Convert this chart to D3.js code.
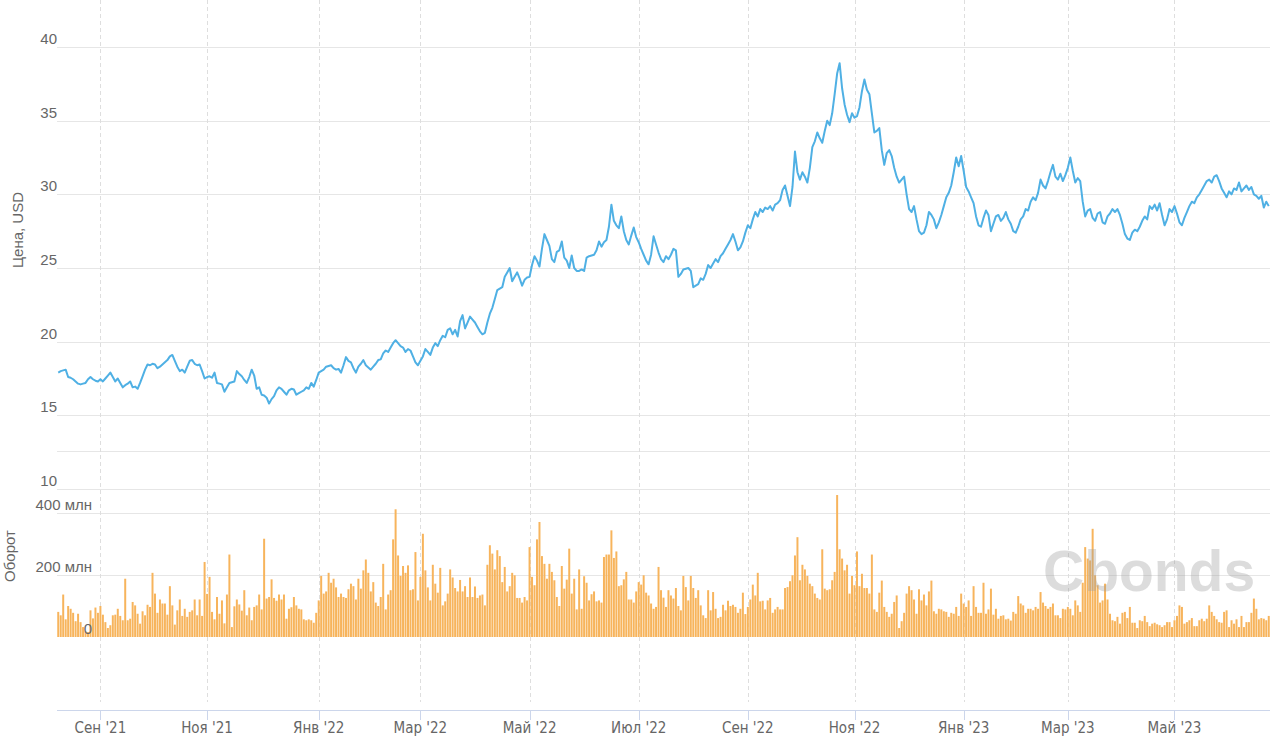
<!DOCTYPE html>
<html><head><meta charset="utf-8">
<script src="https://cdn.jsdelivr.net/npm/d3@7"></script>
<style>body{margin:0;background:#fff;}svg{display:block;}</style>
</head><body>
<svg id="c" width="1280" height="747"></svg>
<script>
// ---- data ----
const startDate = "2021-08-09"; // first trading day shown (business days follow)
const price = [
17.9,18.0,18.05,18.1,17.6,17.55,17.45,17.3,17.15,17.1,
17.15,17.2,17.45,17.6,17.45,17.35,17.3,17.45,17.3,17.5,
17.7,17.9,17.6,17.3,17.5,17.2,16.9,17.05,17.15,17.3,
16.9,16.95,16.8,17.2,17.65,18.1,18.45,18.4,18.5,18.45,
18.2,18.3,18.45,18.6,18.75,19.0,19.1,18.7,18.3,18.0,
18.1,17.9,18.3,18.7,18.75,18.5,18.4,18.45,18.0,17.5,
17.6,17.65,17.55,17.9,17.2,17.15,17.1,16.6,16.9,17.2,
17.25,17.3,18.0,17.8,17.65,17.4,17.2,17.6,18.1,17.7,
16.8,16.9,16.4,16.35,16.2,15.8,16.1,16.3,16.7,16.9,
16.8,16.6,16.4,16.7,16.8,16.75,16.4,16.5,16.6,16.7,
16.9,16.8,17.2,16.95,17.4,17.9,18.0,18.1,18.3,18.35,
18.4,18.2,18.1,18.15,17.9,18.4,18.95,18.7,18.6,18.2,
17.9,18.3,18.5,18.75,18.4,18.25,18.1,18.3,18.5,18.75,
18.8,19.2,19.4,19.3,19.6,19.9,20.1,19.9,19.7,19.6,
19.3,19.5,19.4,19.0,18.6,18.4,18.7,19.0,19.5,19.3,
19.1,19.6,19.9,19.7,20.1,20.4,20.3,20.8,20.9,20.5,
20.8,20.35,21.4,21.8,20.9,21.3,21.7,21.5,21.3,21.0,
20.7,20.5,20.6,21.3,21.9,22.3,22.9,23.5,23.6,23.7,
24.4,24.7,25.0,24.1,24.4,24.7,24.3,23.8,24.2,24.35,
24.4,25.2,25.8,25.5,25.1,26.3,27.3,26.9,26.5,25.6,
25.4,26.1,26.2,26.8,25.7,25.5,25.0,25.85,25.0,24.8,
24.8,24.9,24.8,25.7,25.8,25.85,25.9,26.2,26.8,26.45,
26.75,26.9,27.8,29.3,28.2,27.9,27.7,28.5,27.5,26.9,
26.6,27.2,27.75,27.1,26.75,26.3,25.9,25.5,25.25,25.9,
27.15,26.6,26.05,25.6,25.4,25.8,25.6,25.9,26.3,26.2,
24.4,24.6,24.9,24.95,25.0,24.8,23.7,23.8,23.9,24.3,
24.2,24.6,25.2,25.0,25.3,25.6,25.4,25.8,26.0,26.3,
26.6,26.9,27.3,26.8,26.2,26.4,26.8,27.4,27.9,27.7,
28.3,28.8,28.5,29.0,28.8,29.1,29.0,29.2,28.9,29.3,
29.4,29.6,30.3,30.6,29.9,29.2,30.5,32.9,31.5,31.0,
31.5,31.2,30.8,31.8,33.2,33.6,34.2,33.8,33.5,34.3,
35.0,34.7,35.5,36.8,38.2,38.9,37.2,36.1,35.4,34.9,
35.5,35.2,35.3,35.9,37.0,37.8,37.1,36.8,35.5,34.2,
34.3,34.5,33.0,32.0,32.8,33.0,32.6,31.8,31.2,30.8,
31.0,31.2,30.0,29.0,28.8,29.2,28.3,27.5,27.3,27.4,
27.9,28.8,28.6,28.3,27.7,28.1,28.6,29.2,29.8,30.1,
30.6,31.5,32.5,31.9,32.6,31.6,30.5,30.2,29.8,29.4,
28.5,27.9,27.8,28.4,28.9,28.6,27.5,28.0,28.5,28.6,
28.2,28.4,28.8,28.3,28.0,27.5,27.4,27.8,28.3,28.5,
29.0,28.9,29.5,29.8,29.6,30.1,31.0,30.6,30.4,30.9,
31.5,32.0,31.2,31.0,31.4,30.9,31.3,31.8,32.5,31.6,
30.8,31.1,30.9,29.5,28.5,28.9,29.0,28.4,28.2,28.7,
28.8,28.1,28.0,28.5,28.7,29.0,28.8,29.0,28.6,28.0,
27.3,27.0,26.9,27.4,27.6,27.5,27.8,28.2,28.5,28.3,
29.2,29.0,29.3,28.9,29.4,28.6,27.9,28.3,29.0,28.8,
29.2,28.7,28.1,27.9,28.4,28.8,29.2,29.5,29.4,29.8,
30.0,30.3,30.6,30.9,31.0,30.8,31.2,31.3,30.9,30.4,
30.1,29.8,30.2,30.0,30.4,30.3,30.8,30.2,30.4,30.6,
30.3,30.5,30.0,29.9,29.7,29.9,29.1,29.5,29.2
];
// turnover, million USD
const volume2021 = [
81,70,137,57,100,91,78,51,75,48,32,18,16,86,60,95,78,100,72,48,
29,38,70,72,91,68,54,188,54,59,113,102,75,43,83,70,104,97,207,140,
78,121,108,108,72,164,102,40,86,121,68,91,65,81,86,121,70,121,68,242,
139,194,81,57,129,75,118,44,137,266,32,99,121,105,85,151,70,95,54,97,
102,137,89,317,124,129,186,126,117,137,121,137,59,91,96,129,102,91,89,57,54
];
const volume2022a = [
57,54,46,78,118,197,140,147,207,175,188,160,129,140,129,126,154,172,164,121,
188,156,215,250,207,147,177,111,100,129,236,89,137,151,315,412,263,197,229,207,
231,151,154,274,118,194,333,215,160,118,233,172,143,223,102,115,140,218,192,158,
147,184,147,164,129,192,129,163,126,134,137,102,233,296,269,218,280,261,177,226,
147,164,207,199,126,126,111,129,118,290,194,167,315,371,261,236,188
];
const volume2022b = [
236,210,183,129,100,229,156,185,285,140,188,89,218,91,196,175,118,138,147,115,
118,111,258,266,266,344,255,276,164,167,186,210,121,121,111,147,177,169,199,143,134,
108,91,97,226,151,127,97,151,134,124,158,100,86,197,161,118,197,158,126,151,102,
70,61,151,86,145,91,61,65,104,86,117,100,104,97,78,91,143,74,97,121,169,
134,207,115,117,89,118,126,78,89,97,89,89,158,161,180,199
];
const volume2022c = [
263,322,183,233,218,197,172,164,140,126,121,283,156,151,154,183,210,458,283,253,
215,233,140,197,167,276,164,204,158,158,140,266,89,81,143,182,97,81,65,75,113,
134,29,51,78,140,164,151,121,75,154,118,137,102,147,182,83,75,91,89,83,81,
65,78,75,97,68,140,108,97,118,68,164,97,78,78,175,75,89,156,72,91,
59,68,70,57,59,53,81,75,132,108,102,78,91,91,86,97,91
];
const volume2023 = [
145,111,100,91,97,108,70,70,61,91,89,97,91,70,118,102,81,175,290,253,
247,349,199,167,111,118,172,121,75,54,51,65,43,78,81,61,97,46,46,29,
54,51,68,48,35,43,46,41,38,32,38,48,48,32,54,68,102,97,43,48,
54,61,35,35,54,59,51,59,102,81,68,57,48,46,81,86,32,54,43,57,
32,68,32,48,48,78,124,91,57,61,59,54,68
];
const volume = [].concat(volume2021, volume2022a, volume2022b, volume2022c, volume2023);

const priceTicks = [10,15,20,25,30,35,40];
const volumeGridTicks = [200,400,600];
const volumeLabelTicks = [0,200,400];
const monthTickDates = ["2021-09-01","2021-11-01","2022-01-01","2022-03-01","2022-05-01","2022-07-01","2022-09-01","2022-11-01","2023-01-01","2023-03-01","2023-05-01"];
const monthTickLabels = ["Сен '21","Ноя '21","Янв '22","Мар '22","Май '22","Июл '22","Сен '22","Ноя '22","Янв '23","Мар '23","Май '23"];

// ---- trading-day calendar ----
const N = price.length;
const dates = [];
{ const d = new Date(startDate + "T00:00:00");
  while (dates.length < N) { const w = d.getDay(); if (w !== 0 && w !== 6) dates.push(new Date(d)); d.setDate(d.getDate() + 1); } }

// ---- scales ----
const left = 57, right = 1270;
const x = d3.scaleLinear().domain([-0.5, N - 0.5]).range([left, right]);
const yP = d3.scaleLinear().domain([10, 40]).range([489, 47]);
const yV = d3.scaleLinear().domain([0, 600]).range([637, 451]);
const step = x(1) - x(0);

const svg = d3.select("#c");
const labelFont = "'Liberation Sans', Arial, sans-serif";

// horizontal grid
svg.append("g").selectAll("line").data(priceTicks).join("line")
  .attr("x1", left).attr("x2", right).attr("y1", d => Math.round(yP(d)) + 0.5).attr("y2", d => Math.round(yP(d)) + 0.5)
  .attr("stroke", "#e6e6e6").attr("stroke-width", 1);
svg.append("g").selectAll("line").data(volumeGridTicks).join("line")
  .attr("x1", left).attr("x2", right).attr("y1", d => Math.round(yV(d)) + 0.5).attr("y2", d => Math.round(yV(d)) + 0.5)
  .attr("stroke", "#e6e6e6").attr("stroke-width", 1);

// month tick positions (first trading day of month)
const tickIdx = monthTickDates.map(s => d3.bisectLeft(dates, new Date(s + "T00:00:00")));
svg.append("g").selectAll("line").data(tickIdx).join("line")
  .attr("x1", d => Math.round(x(d)) + 0.5).attr("x2", d => Math.round(x(d)) + 0.5)
  .attr("y1", 0).attr("y2", 702)
  .attr("stroke", "#dedede").attr("stroke-width", 1).attr("stroke-dasharray", "4,3");

// volume bars
svg.append("g").selectAll("rect").data(volume).join("rect")
  .attr("x", (d, i) => x(i) - step * 0.4).attr("width", step * 0.8)
  .attr("y", d => yV(d)).attr("height", d => yV(0) - yV(d))
  .attr("fill", "#f7b45c");

// price line
svg.append("path").datum(price)
  .attr("fill", "none").attr("stroke", "#4fb0e4").attr("stroke-width", 2).attr("stroke-linejoin", "round")
  .attr("d", d3.line().x((d, i) => x(i)).y(d => yP(d)));

// watermark
svg.append("text").attr("x", 1043).attr("y", 591).text("Cbonds")
  .attr("font-family", labelFont).attr("font-weight", "bold").attr("font-size", 57)
  .attr("fill", "#9a9a9a").attr("fill-opacity", 0.35);

// y labels
svg.append("g").selectAll("text").data(priceTicks).join("text")
  .attr("x", 57).attr("y", d => yP(d) - 3).attr("text-anchor", "end")
  .attr("font-family", labelFont).attr("font-size", 15).attr("fill", "#666").text(d => d);
svg.append("g").selectAll("text").data(volumeLabelTicks).join("text")
  .attr("x", 92).attr("y", d => yV(d) - 3).attr("text-anchor", "end")
  .attr("font-family", labelFont).attr("font-size", 15).attr("fill", "#666")
  .text(d => d === 0 ? "0" : d + " млн");

// axis titles
svg.append("text").attr("transform", "translate(17,230) rotate(-90)").attr("text-anchor", "middle")
  .attr("dominant-baseline", "central").attr("font-family", labelFont).attr("font-size", 15).attr("fill", "#666")
  .text("Цена, USD");
svg.append("text").attr("transform", "translate(9,556) rotate(-90)").attr("text-anchor", "middle")
  .attr("dominant-baseline", "central").attr("font-family", labelFont).attr("font-size", 15).attr("fill", "#666")
  .text("Оборот");

// bottom x axis
svg.append("line").attr("x1", left).attr("x2", right).attr("y1", 710.5).attr("y2", 710.5)
  .attr("stroke", "#ccd6eb").attr("stroke-width", 1);
svg.append("g").selectAll("line").data(tickIdx).join("line")
  .attr("x1", d => Math.round(x(d)) + 0.5).attr("x2", d => Math.round(x(d)) + 0.5)
  .attr("y1", 710).attr("y2", 720).attr("stroke", "#ccd6eb");
svg.append("g").selectAll("text").data(tickIdx).join("text")
  .attr("x", d => x(d)).attr("y", 733).attr("text-anchor", "middle")
  .attr("font-family", "'Liberation Sans Narrow', 'DejaVu Sans Condensed', sans-serif").attr("font-size", 15)
  .attr("fill", "#666").text((d, i) => monthTickLabels[i]);
</script>
</body></html>
